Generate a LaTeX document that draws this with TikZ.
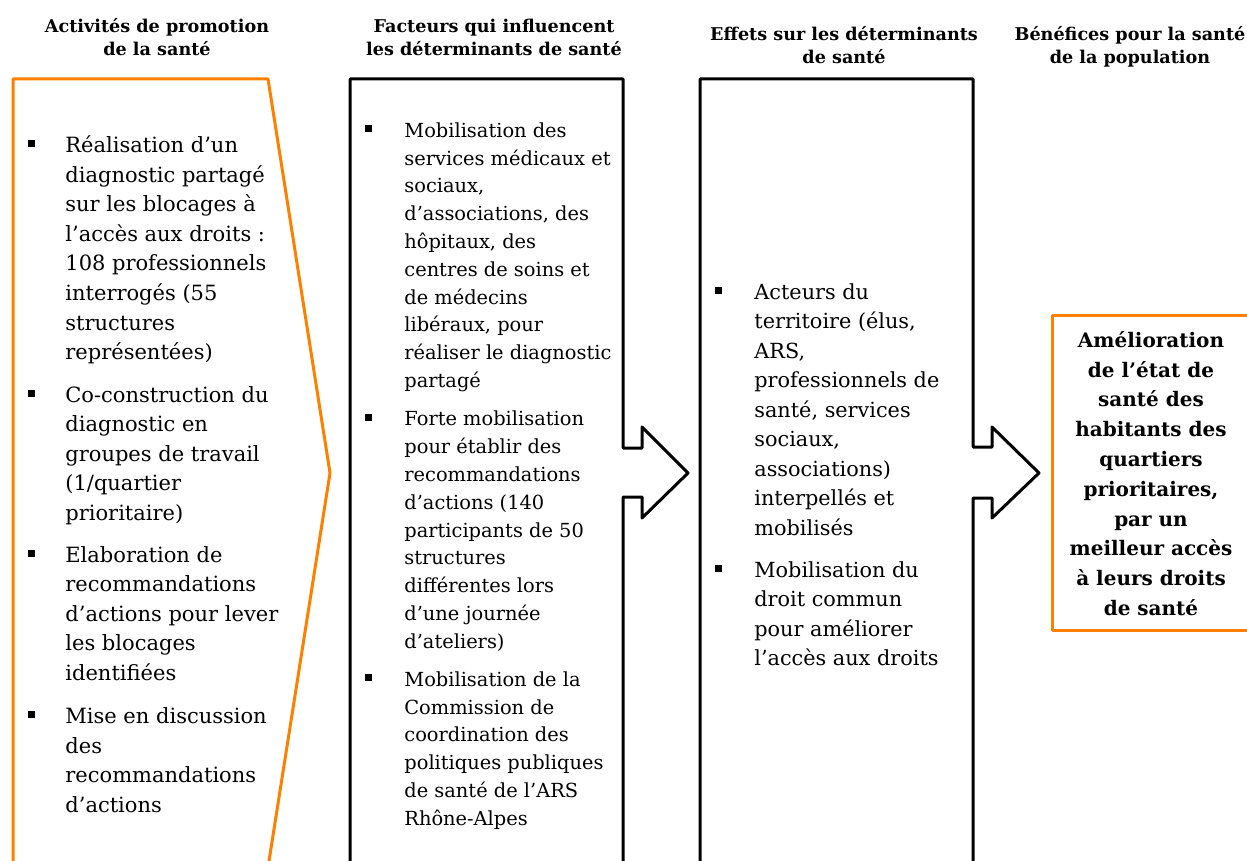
\documentclass[tikz,border=0pt]{standalone}
\usepackage{fontspec}
\setmainfont{DejaVu Serif}
\definecolor{orangebord}{RGB}{255,128,0}
\tikzset{
  titre/.style={font=\bfseries\fontsize{8.8}{11.7}\selectfont, align=center, anchor=north, inner sep=0pt},
  puce/.style={fill=black, inner sep=0pt, minimum size=3.5pt},
  texteA/.style={anchor=north west, inner sep=0pt, align=left, font=\fontsize{10.5}{14.8}\selectfont},
  texteB/.style={anchor=north west, inner sep=0pt, align=left, font=\fontsize{9.7}{13.9}\selectfont},
  texteC/.style={anchor=north west, inner sep=0pt, align=left, font=\fontsize{10.4}{14.75}\selectfont},
  bordorange/.style={draw=orangebord, line width=1.5pt, line join=round},
  bordnoir/.style={draw=black, line width=1.5pt, line join=round}
}

\begin{document}
\begin{tikzpicture}[x=0.5pt,y=-0.5pt]
    \useasboundingbox (0,0) rectangle (1247,861);
    \clip (0,0) rectangle (1247,861);

    % titres des colonnes
    \node[titre] (tA) at (157,15.6) {\strut Activités de promotion\\de la santé};
    \node[titre] (tB) at (494,15.6) {\strut Facteurs qui influencent\\les déterminants de santé};
    \node[titre] (tC) at (844,23.6) {\strut Effets sur les déterminants\\de santé};
    \node[titre] (tD) at (1130,23.6) {\strut Bénéfices pour la santé\\de la population};

    % colonne 1
    \begin{scope}
      \draw[bordorange] (13,880) -- (13,79) -- (268,79) -- (330,473) -- (266,880);
      \node[texteA] (a1) at (65,131.3) {\strut Réalisation d’un\\diagnostic partagé\\sur les blocages à\\l’accès aux droits :\\108 professionnels\\interrogés (55\\structures\\représentées)};
      \node[texteA] (a2) at (65,381) {\strut Co-construction du\\diagnostic en\\groupes de travail\\(1/quartier\\prioritaire)};
      \node[texteA] (a3) at (65,541) {\strut Elaboration de\\recommandations\\d’actions pour lever\\les blocages\\identifiées};
      \node[texteA] (a4) at (65,702.3) {\strut Mise en discussion\\des\\recommandations\\d’actions};
      \foreach \y [count=\k] in {143.5,393.2,553.2,714.5}
        \node[puce] (pa\k) at (31.5,\y) {};
    \end{scope}

    % colonne 2
    \begin{scope}
      \draw[bordnoir] (350,880) -- (350,79) -- (623,79) -- (623,448) -- (642,448) -- (642,427)
        -- (688,473) -- (642,518) -- (642,497) -- (623,497) -- (623,880);
      \node[texteB] (b1) at (404,117.5) {\strut Mobilisation des\\services médicaux et\\sociaux,\\d’associations, des\\hôpitaux, des\\centres de soins et\\de médecins\\libéraux, pour\\réaliser le diagnostic\\partagé};
      \node[texteB] (b2) at (404,406) {\strut Forte mobilisation\\pour établir des\\recommandations\\d’actions (140\\participants de 50\\structures\\différentes lors\\d’une journée\\d’ateliers)};
      \node[texteB] (b3) at (404,666.5) {\strut Mobilisation de la\\Commission de\\coordination des\\politiques publiques\\de santé de l’ARS\\Rhône-Alpes};
      \foreach \y [count=\k] in {128.5,417,677.5}
        \node[puce] (pb\k) at (368.5,\y) {};
    \end{scope}

    % colonne 3
    \begin{scope}
      \draw[bordnoir] (700,880) -- (700,79) -- (973,79) -- (973,447) -- (992,447) -- (992,427)
        -- (1039,473) -- (992,518) -- (992,498) -- (973,498) -- (973,880);
      \node[texteC] (c1) at (754,278.4) {\strut Acteurs du\\territoire (élus,\\ARS,\\professionnels de\\santé, services\\sociaux,\\associations)\\interpellés et\\mobilisés};
      \node[texteC] (c2) at (754,556.4) {\strut Mobilisation du\\droit commun\\pour améliorer\\l’accès aux droits};
      \foreach \y [count=\k] in {290.5,568.5}
        \node[puce] (pc\k) at (718.5,\y) {};
    \end{scope}

    % colonne 4
    \draw[bordorange] (1052,315) rectangle (1262,630);
    \node[anchor=north, inner sep=0pt, align=center, font=\bfseries\fontsize{10}{14.9}\selectfont]
      (d1) at (1151,326) {\strut Amélioration\\de l’état de\\santé des\\habitants des\\quartiers\\prioritaires,\\par un\\meilleur accès\\à leurs droits\\de santé};

\end{tikzpicture}
\end{document}
